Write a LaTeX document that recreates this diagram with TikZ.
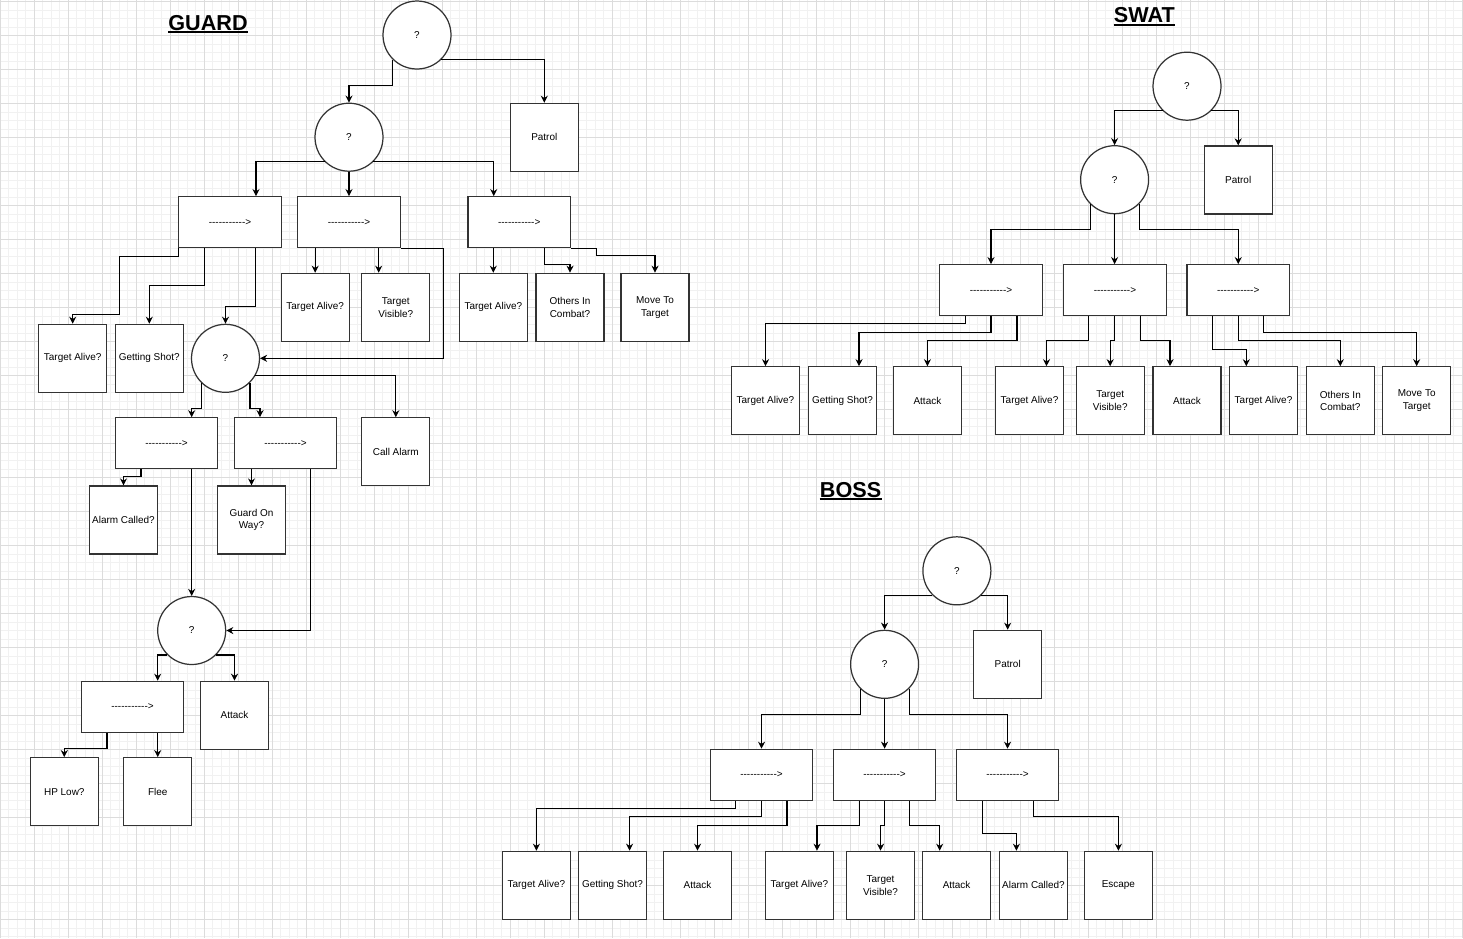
\documentclass[tikz,border=0pt]{standalone}
\usepackage{fontspec}
\setmainfont{Liberation Sans}
\usetikzlibrary{arrows.meta,calc,shapes.geometric}
\definecolor{gminor}{HTML}{F1F1F1}
\definecolor{gmajor}{HTML}{DCDCDC}
\newcommand{\seqarrow}{-\kern0pt-\kern0pt-\kern0pt-\kern0pt-\kern0pt-\kern0pt-\kern0pt-\kern0pt-\kern0pt-\kern0pt-\kern0pt>}
\begin{document}
\begin{tikzpicture}[x=0.02cm,y=-0.02cm,
  leaf/.style={draw=black!80, line width=0.7pt, fill=white, rectangle, minimum width=1.36cm, minimum height=1.36cm, inner sep=0.5pt, align=center, font=\fontsize{5.67pt}{7.2pt}\selectfont},
  seqbox/.style={leaf, minimum width=2.05cm, minimum height=1.02cm},
  selbox/.style={leaf, circle, minimum size=1.36cm},
  arr/.style={draw=black, line width=0.6pt, -{Stealth[length=4pt,width=4pt,inset=1.3pt]}},
  ttl/.style={font=\bfseries\fontsize{12.3pt}{14pt}\selectfont, inner sep=0pt, anchor=base},
  uline/.style={line width=1.1pt}
]
\useasboundingbox (0,0) rectangle (1463,938);
\fill[white] (0,0) rectangle (1463,938);
% grid
\foreach \i in {0,...,172} {\draw[gminor, line width=0.5pt] ({0.3+8.5*\i},0) -- ({0.3+8.5*\i},938);}
\foreach \i in {0,...,110} {\draw[gminor, line width=0.5pt] (0,{1.7+8.5*\i}) -- (1463,{1.7+8.5*\i});}
\foreach \i in {0,...,43} {\draw[gmajor, line width=0.5pt] ({0.3+34*\i},0) -- ({0.3+34*\i},938);}
\foreach \i in {0,...,27} {\draw[gmajor, line width=0.5pt] (0,{1.7+34*\i}) -- (1463,{1.7+34*\i});}

% titles
\node[ttl] (tG) at (208,30) {GUARD};
\draw[uline] ($(tG.base west)+(0,2.3)$) -- ($(tG.base east)+(0,2.3)$);
\node[ttl] (tW) at (1144.3,22.5) {SWAT};
\draw[uline] ($(tW.base west)+(0,2.3)$) -- ($(tW.base east)+(0,2.3)$);
\node[ttl] (tB) at (850.6,497) {BOSS};
\draw[uline] ($(tB.base west)+(0,2.3)$) -- ($(tB.base east)+(0,2.3)$);

% ===== GUARD =====
\node[selbox] (G0) at (417,35) {?};
\node[leaf] (GP) at (544.3,137.3) {Patrol};
\node[selbox] (G1) at (349,137.2) {?};
\node[seqbox] (S1) at (230,222.2) {\seqarrow};
\node[seqbox] (S2) at (349,222.2) {\seqarrow};
\node[seqbox] (S3) at (519.2,222.2) {\seqarrow};
\node[leaf] (TA1) at (72.7,358.3) {Target Alive?};
\node[leaf] (GS1) at (149.3,358.3) {Getting Shot?};
\node[selbox] (G2) at (225.5,358.3) {?};
\node[leaf] (TA2) at (315.2,307.3) {Target Alive?};
\node[leaf] (TV2) at (395.8,307.3) {Target\\Visible?};
\node[leaf] (TA3) at (493.3,307.3) {Target Alive?};
\node[leaf] (OC3) at (570,307.3) {Others In\\Combat?};
\node[leaf] (MT3) at (655,307.3) {Move To\\Target};
\node[seqbox] (S4) at (166.5,443.3) {\seqarrow};
\node[seqbox] (S5) at (285.5,443.3) {\seqarrow};
\node[leaf] (CA) at (395.8,451.8) {Call Alarm};
\node[leaf] (AC4) at (123.5,520) {Alarm Called?};
\node[leaf] (GW5) at (251.5,520) {Guard On\\Way?};
\node[selbox] (G3) at (191.7,630.5) {?};
\node[seqbox] (S6) at (132.5,706.8) {\seqarrow};
\node[leaf] (AT6) at (234.5,715.3) {Attack};
\node[leaf] (HP) at (64.3,791.7) {HP Low?};
\node[leaf] (FL) at (157.7,791.7) {Flee};

\draw[arr] (G0.226) |- ($(G1.north)+(0,-17)$) -- (G1.north);
\draw[arr] (G0.-45) -| (GP.north);
\draw[arr] (G1.225) -| ($(S1.north)+(26,0)$);
\draw[arr] (G1.south) -- (S2.north);
\draw[arr] (G1.-45) -| ($(S3.north)+(-25.5,0)$);
\draw[arr] (S1.south west) |- (119.3,256.3) |- ($(TA1.north)+(0,-9)$) -- (TA1.north);
\draw[arr] ($(S1.south)+(-25.7,0)$) |- ($(GS1.north)+(0,-38.3)$) -- (GS1.north);
\draw[arr] ($(S1.south)+(25.7,0)$) |- ($(G2.north)+(0,-17)$) -- (G2.north);
\draw[arr] (TA2.north |- S2.south) -- (TA2.north);
\draw[arr] ($(S2.south)+(29.7,0)$) -- ($(TV2.north)+(-17.1,0)$);
\draw[arr] (S2.south east) -- ++(42.3,0) |- (G2.east);
\draw[arr] (TA3.north |- S3.south) -- (TA3.north);
\draw[arr] ($(S3.south)+(25.7,0)$) |- ($(OC3.north)+(0,-8.6)$) -- (OC3.north);
\draw[arr] (S3.south east) -- ++(25.3,0) |- ($(MT3.north)+(0,-17)$) -- (MT3.north);
\draw[arr] (G2.225) |- ($(S4.north)+(25.2,-8.4)$) -- ($(S4.north)+(25.2,0)$);
\draw[arr] (G2.-45) |- ($(S5.north)+(-25.5,-8.4)$) -- ($(S5.north)+(-25.5,0)$);
\draw[arr] (G2.-30) -| (CA.north);
\draw[arr] ($(S4.south)+(-25.5,0)$) |- ($(AC4.north)+(0,-8.7)$) -- (AC4.north);
\draw[arr] ($(S4.south)+(25.2,0)$) -- (G3.north);
\draw[arr] (GW5.north |- S5.south) -- (GW5.north);
\draw[arr] ($(S5.south)+(25.2,0)$) |- (G3.east);
\draw[arr] (G3.225) -| ($(S6.north)+(25.2,0)$);
\draw[arr] (G3.-45) -| (AT6.north);
\draw[arr] ($(S6.south)+(-25.5,0)$) |- ($(HP.north)+(0,-8.4)$) -- (HP.north);
\draw[arr] (FL.north |- S6.south) -- (FL.north);

% ===== SWAT =====
\node[selbox] (W0) at (1187,86.2) {?};
\node[leaf] (WP) at (1238.2,180) {Patrol};
\node[selbox] (W1) at (1114.6,179.7) {?};
\node[seqbox] (WS1) at (991,290.2) {\seqarrow};
\node[seqbox] (WS2) at (1114.9,290.2) {\seqarrow};
\node[seqbox] (WS3) at (1238.2,290.2) {\seqarrow};
\node[leaf] (L1) at (765.5,400.8) {Target Alive?};
\node[leaf] (L2) at (842.5,400.8) {Getting Shot?};
\node[leaf] (L3) at (927.4,400.8) {Attack};
\node[leaf] (L4) at (1029.5,400.8) {Target Alive?};
\node[leaf] (L5) at (1110.2,400.8) {Target\\Visible?};
\node[leaf] (L6) at (1187,400.8) {Attack};
\node[leaf] (L7) at (1263.5,400.8) {Target Alive?};
\node[leaf] (L8) at (1340.3,400.8) {Others In\\Combat?};
\node[leaf] (L9) at (1416.7,400.8) {Move To\\Target};

\draw[arr] (W0.225) -| (W1.north);
\draw[arr] (W0.-45) -| (WP.north);
\draw[arr] (W1.225) |- ($(WS1.north)+(0,-34.4)$) -- (WS1.north);
\draw[arr] (W1.south) -- (W1.south |- WS2.north);
\draw[arr] (W1.-45) |- ($(WS3.north)+(0,-34.4)$) -- (WS3.north);
\draw[arr] ($(WS1.south)+(-25.2,0)$) |- ($(L1.north)+(0,-42.7)$) -- (L1.north);
\draw[arr] (WS1.south) |- ($(L2.north)+(16.5,-34)$) -- ($(L2.north)+(16.5,0)$);
\draw[arr] ($(WS1.south)+(26,0)$) |- ($(L3.north)+(0,-25.4)$) -- (L3.north);
\draw[arr] ($(WS2.south)+(-26,0)$) |- ($(L4.north)+(17,-25.4)$) -- ($(L4.north)+(17,0)$);
\draw[arr] (WS2.south) |- ($(L5.north)+(0,-25.4)$) -- (L5.north);
\draw[arr] ($(WS2.south)+(25.2,0)$) |- ($(L6.north)+(-17,-25.4)$) -- ($(L6.north)+(-17,0)$);
\draw[arr] ($(WS3.south)+(-25.6,0)$) |- ($(L7.north)+(-17.2,-16.7)$) -- ($(L7.north)+(-17.2,0)$);
\draw[arr] (WS3.south) |- ($(L8.north)+(0,-25.4)$) -- (L8.north);
\draw[arr] ($(WS3.south)+(25.2,0)$) |- ($(L9.north)+(0,-34)$) -- (L9.north);

% ===== BOSS =====
\node[selbox] (B0) at (956.9,570.8) {?};
\node[leaf] (BP) at (1007.7,664.3) {Patrol};
\node[selbox] (B1) at (884.6,664.3) {?};
\node[seqbox] (BS1) at (761.5,774.8) {\seqarrow};
\node[seqbox] (BS2) at (884.5,774.8) {\seqarrow};
\node[seqbox] (BS3) at (1007.5,774.8) {\seqarrow};
\node[leaf] (BL1) at (536.4,885.3) {Target Alive?};
\node[leaf] (BL2) at (612.5,885.3) {Getting Shot?};
\node[leaf] (BL3) at (697.5,885.3) {Attack};
\node[leaf] (BL4) at (799.5,885.3) {Target Alive?};
\node[leaf] (BL5) at (880.5,885.3) {Target\\Visible?};
\node[leaf] (BL6) at (956.6,885.3) {Attack};
\node[leaf] (BL7) at (1033.5,885.3) {Alarm Called?};
\node[leaf] (BL8) at (1118.4,885.3) {Escape};

\draw[arr] (B0.225) -| (B1.north);
\draw[arr] (B0.-45) -| (BP.north);
\draw[arr] (B1.225) |- ($(BS1.north)+(0,-34)$) -- (BS1.north);
\draw[arr] (B1.south) -- (B1.south |- BS2.north);
\draw[arr] (B1.-45) |- ($(BS3.north)+(0,-34)$) -- (BS3.north);
\draw[arr] ($(BS1.south)+(-25.6,0)$) |- ($(BL1.north)+(0,-42.3)$) -- (BL1.north);
\draw[arr] (BS1.south) |- ($(BL2.north)+(17.1,-34)$) -- ($(BL2.north)+(17.1,0)$);
\draw[arr] ($(BS1.south)+(25.5,0)$) |- ($(BL3.north)+(0,-25.3)$) -- (BL3.north);
\draw[arr] ($(BS2.south)+(-25,0)$) |- ($(BL4.north)+(17.5,-25.3)$) -- ($(BL4.north)+(17.5,0)$);
\draw[arr] (BS2.south) |- ($(BL5.north)+(0,-25.3)$) -- (BL5.north);
\draw[arr] ($(BS2.south)+(25.3,0)$) |- ($(BL6.north)+(-16.9,-25.3)$) -- ($(BL6.north)+(-16.9,0)$);
\draw[arr] ($(BS3.south)+(-25.3,0)$) |- ($(BL7.north)+(-17.1,-17)$) -- ($(BL7.north)+(-17.1,0)$);
\draw[arr] ($(BS3.south)+(25.9,0)$) |- ($(BL8.north)+(0,-34)$) -- (BL8.north);
\end{tikzpicture}
\end{document}
